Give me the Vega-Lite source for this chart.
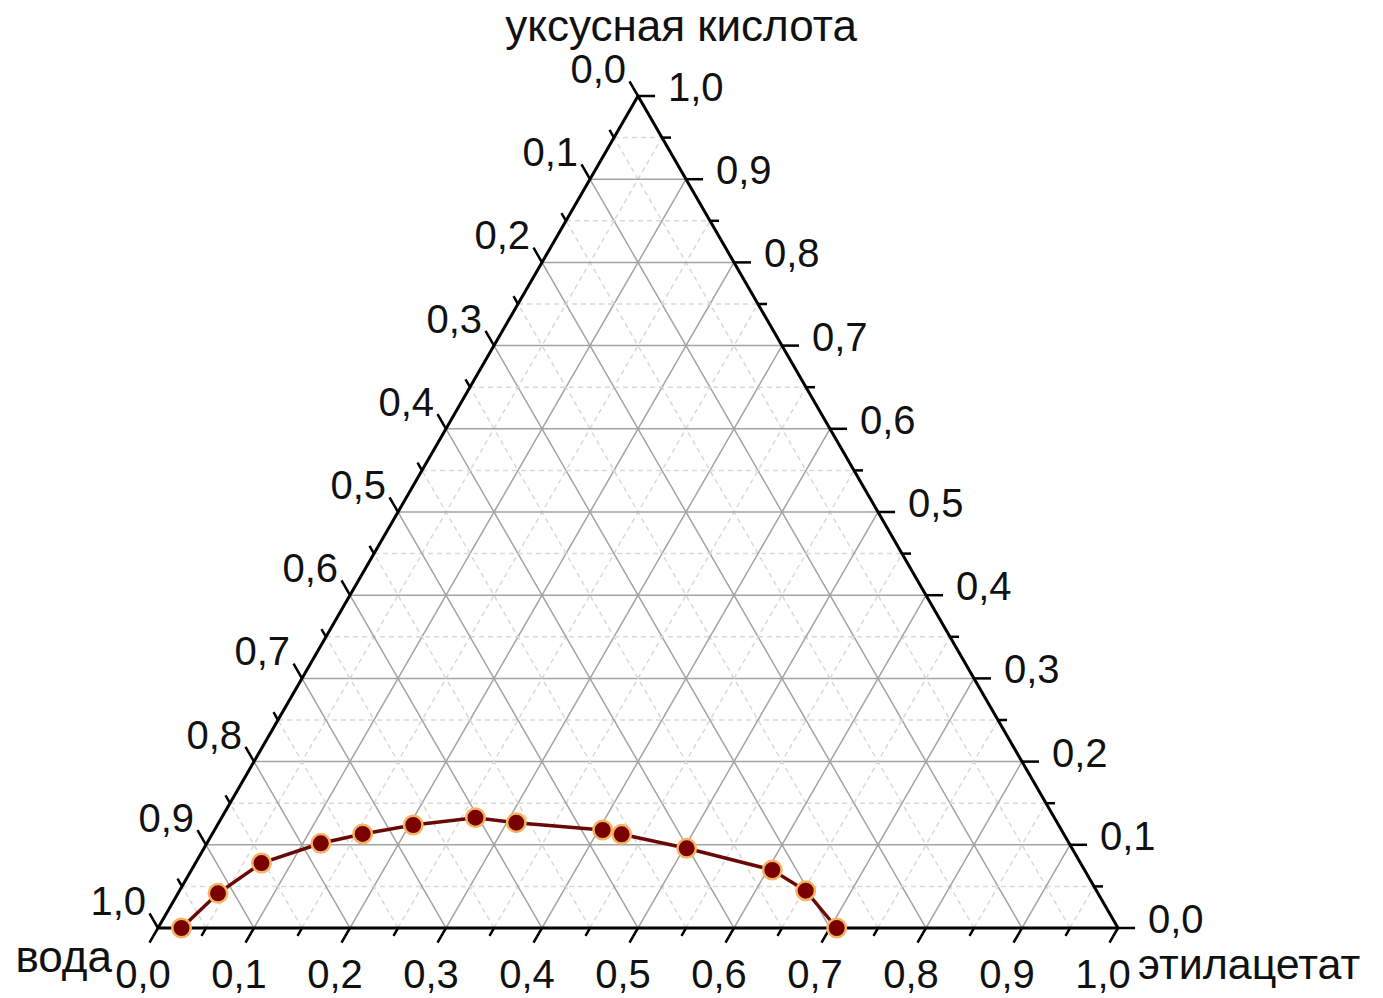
{
  "$schema": "https://vega.github.io/schema/vega-lite/v6.json",
  "width": 960,
  "height": 832,
  "autosize": {"type": "none"},
  "padding": {"left": 158, "top": 96, "right": 265, "bottom": 70},
  "background": "white",
  "view": {"stroke": null},
  "config": {"font": "Liberation Sans"},
  "datasets": {
    "grid": [
      {"kind": "minor", "x": 0.025, "y": 0.05, "x2": 0.975, "y2": 0.05},
      {"kind": "minor", "x": 0.05, "y": 0, "x2": 0.525, "y2": 0.95},
      {"kind": "minor", "x": 0.95, "y": 0, "x2": 0.475, "y2": 0.95},
      {"kind": "major", "x": 0.05, "y": 0.1, "x2": 0.95, "y2": 0.1},
      {"kind": "major", "x": 0.1, "y": 0, "x2": 0.55, "y2": 0.9},
      {"kind": "major", "x": 0.9, "y": 0, "x2": 0.45, "y2": 0.9},
      {"kind": "minor", "x": 0.075, "y": 0.15, "x2": 0.925, "y2": 0.15},
      {"kind": "minor", "x": 0.15, "y": 0, "x2": 0.575, "y2": 0.85},
      {"kind": "minor", "x": 0.85, "y": 0, "x2": 0.425, "y2": 0.85},
      {"kind": "major", "x": 0.1, "y": 0.2, "x2": 0.9, "y2": 0.2},
      {"kind": "major", "x": 0.2, "y": 0, "x2": 0.6, "y2": 0.8},
      {"kind": "major", "x": 0.8, "y": 0, "x2": 0.4, "y2": 0.8},
      {"kind": "minor", "x": 0.125, "y": 0.25, "x2": 0.875, "y2": 0.25},
      {"kind": "minor", "x": 0.25, "y": 0, "x2": 0.625, "y2": 0.75},
      {"kind": "minor", "x": 0.75, "y": 0, "x2": 0.375, "y2": 0.75},
      {"kind": "major", "x": 0.15, "y": 0.3, "x2": 0.85, "y2": 0.3},
      {"kind": "major", "x": 0.3, "y": 0, "x2": 0.65, "y2": 0.7},
      {"kind": "major", "x": 0.7, "y": 0, "x2": 0.35, "y2": 0.7},
      {"kind": "minor", "x": 0.175, "y": 0.35, "x2": 0.825, "y2": 0.35},
      {"kind": "minor", "x": 0.35, "y": 0, "x2": 0.675, "y2": 0.65},
      {"kind": "minor", "x": 0.65, "y": 0, "x2": 0.325, "y2": 0.65},
      {"kind": "major", "x": 0.2, "y": 0.4, "x2": 0.8, "y2": 0.4},
      {"kind": "major", "x": 0.4, "y": 0, "x2": 0.7, "y2": 0.6},
      {"kind": "major", "x": 0.6, "y": 0, "x2": 0.3, "y2": 0.6},
      {"kind": "minor", "x": 0.225, "y": 0.45, "x2": 0.775, "y2": 0.45},
      {"kind": "minor", "x": 0.45, "y": 0, "x2": 0.725, "y2": 0.55},
      {"kind": "minor", "x": 0.55, "y": 0, "x2": 0.275, "y2": 0.55},
      {"kind": "major", "x": 0.25, "y": 0.5, "x2": 0.75, "y2": 0.5},
      {"kind": "major", "x": 0.5, "y": 0, "x2": 0.75, "y2": 0.5},
      {"kind": "major", "x": 0.5, "y": 0, "x2": 0.25, "y2": 0.5},
      {"kind": "minor", "x": 0.275, "y": 0.55, "x2": 0.725, "y2": 0.55},
      {"kind": "minor", "x": 0.55, "y": 0, "x2": 0.775, "y2": 0.45},
      {"kind": "minor", "x": 0.45, "y": 0, "x2": 0.225, "y2": 0.45},
      {"kind": "major", "x": 0.3, "y": 0.6, "x2": 0.7, "y2": 0.6},
      {"kind": "major", "x": 0.6, "y": 0, "x2": 0.8, "y2": 0.4},
      {"kind": "major", "x": 0.4, "y": 0, "x2": 0.2, "y2": 0.4},
      {"kind": "minor", "x": 0.325, "y": 0.65, "x2": 0.675, "y2": 0.65},
      {"kind": "minor", "x": 0.65, "y": 0, "x2": 0.825, "y2": 0.35},
      {"kind": "minor", "x": 0.35, "y": 0, "x2": 0.175, "y2": 0.35},
      {"kind": "major", "x": 0.35, "y": 0.7, "x2": 0.65, "y2": 0.7},
      {"kind": "major", "x": 0.7, "y": 0, "x2": 0.85, "y2": 0.3},
      {"kind": "major", "x": 0.3, "y": 0, "x2": 0.15, "y2": 0.3},
      {"kind": "minor", "x": 0.375, "y": 0.75, "x2": 0.625, "y2": 0.75},
      {"kind": "minor", "x": 0.75, "y": 0, "x2": 0.875, "y2": 0.25},
      {"kind": "minor", "x": 0.25, "y": 0, "x2": 0.125, "y2": 0.25},
      {"kind": "major", "x": 0.4, "y": 0.8, "x2": 0.6, "y2": 0.8},
      {"kind": "major", "x": 0.8, "y": 0, "x2": 0.9, "y2": 0.2},
      {"kind": "major", "x": 0.2, "y": 0, "x2": 0.1, "y2": 0.2},
      {"kind": "minor", "x": 0.425, "y": 0.85, "x2": 0.575, "y2": 0.85},
      {"kind": "minor", "x": 0.85, "y": 0, "x2": 0.925, "y2": 0.15},
      {"kind": "minor", "x": 0.15, "y": 0, "x2": 0.075, "y2": 0.15},
      {"kind": "major", "x": 0.45, "y": 0.9, "x2": 0.55, "y2": 0.9},
      {"kind": "major", "x": 0.9, "y": 0, "x2": 0.95, "y2": 0.1},
      {"kind": "major", "x": 0.1, "y": 0, "x2": 0.05, "y2": 0.1},
      {"kind": "minor", "x": 0.475, "y": 0.95, "x2": 0.525, "y2": 0.95},
      {"kind": "minor", "x": 0.95, "y": 0, "x2": 0.975, "y2": 0.05},
      {"kind": "minor", "x": 0.05, "y": 0, "x2": 0.025, "y2": 0.05}
    ],
    "frame": [
      {"x": 0, "y": 0, "x2": 1, "y2": 0},
      {"x": 0, "y": 0, "x2": 0.5, "y2": 1},
      {"x": 1, "y": 0, "x2": 0.5, "y2": 1}
    ],
    "ticks": [
      {"u": 0, "xl": 0, "xr": 1, "kind": "major", "lab": "0,0", "labw": "1,0"},
      {"u": 0.05, "xl": 0.025, "xr": 0.975, "kind": "minor", "lab": "", "labw": ""},
      {"u": 0.1, "xl": 0.05, "xr": 0.95, "kind": "major", "lab": "0,1", "labw": "0,9"},
      {"u": 0.15, "xl": 0.075, "xr": 0.925, "kind": "minor", "lab": "", "labw": ""},
      {"u": 0.2, "xl": 0.1, "xr": 0.9, "kind": "major", "lab": "0,2", "labw": "0,8"},
      {"u": 0.25, "xl": 0.125, "xr": 0.875, "kind": "minor", "lab": "", "labw": ""},
      {"u": 0.3, "xl": 0.15, "xr": 0.85, "kind": "major", "lab": "0,3", "labw": "0,7"},
      {"u": 0.35, "xl": 0.175, "xr": 0.825, "kind": "minor", "lab": "", "labw": ""},
      {"u": 0.4, "xl": 0.2, "xr": 0.8, "kind": "major", "lab": "0,4", "labw": "0,6"},
      {"u": 0.45, "xl": 0.225, "xr": 0.775, "kind": "minor", "lab": "", "labw": ""},
      {"u": 0.5, "xl": 0.25, "xr": 0.75, "kind": "major", "lab": "0,5", "labw": "0,5"},
      {"u": 0.55, "xl": 0.275, "xr": 0.725, "kind": "minor", "lab": "", "labw": ""},
      {"u": 0.6, "xl": 0.3, "xr": 0.7, "kind": "major", "lab": "0,6", "labw": "0,4"},
      {"u": 0.65, "xl": 0.325, "xr": 0.675, "kind": "minor", "lab": "", "labw": ""},
      {"u": 0.7, "xl": 0.35, "xr": 0.65, "kind": "major", "lab": "0,7", "labw": "0,3"},
      {"u": 0.75, "xl": 0.375, "xr": 0.625, "kind": "minor", "lab": "", "labw": ""},
      {"u": 0.8, "xl": 0.4, "xr": 0.6, "kind": "major", "lab": "0,8", "labw": "0,2"},
      {"u": 0.85, "xl": 0.425, "xr": 0.575, "kind": "minor", "lab": "", "labw": ""},
      {"u": 0.9, "xl": 0.45, "xr": 0.55, "kind": "major", "lab": "0,9", "labw": "0,1"},
      {"u": 0.95, "xl": 0.475, "xr": 0.525, "kind": "minor", "lab": "", "labw": ""},
      {"u": 1, "xl": 0.5, "xr": 0.5, "kind": "major", "lab": "1,0", "labw": "0,0"}
    ],
    "curve": [
      {"x": 0.0245, "y": 0.0},
      {"x": 0.0625, "y": 0.0417},
      {"x": 0.1078, "y": 0.0781},
      {"x": 0.1696, "y": 0.1018},
      {"x": 0.2132, "y": 0.113},
      {"x": 0.2659, "y": 0.1238},
      {"x": 0.3307, "y": 0.1326},
      {"x": 0.3732, "y": 0.1266},
      {"x": 0.4632, "y": 0.1178},
      {"x": 0.483, "y": 0.1126},
      {"x": 0.5507, "y": 0.0958},
      {"x": 0.6399, "y": 0.0697},
      {"x": 0.6747, "y": 0.0448},
      {"x": 0.707, "y": 0.0}
    ]
  },
  "layer": [
    {
      "data": {"name": "grid"},
      "mark": {"type": "rule", "strokeWidth": 1.5},
      "encoding": {
        "x": {"field": "x", "type": "quantitative", "scale": {"domain": [0, 1], "nice": false, "zero": false}, "axis": null},
        "y": {"field": "y", "type": "quantitative", "scale": {"domain": [0, 1], "nice": false, "zero": false}, "axis": null},
        "x2": {"field": "x2"},
        "y2": {"field": "y2"},
        "color": {"field": "kind", "type": "nominal", "scale": {"domain": ["major", "minor"], "range": ["#a3a3a3", "#d9d9d9"]}, "legend": null},
        "strokeDash": {"field": "kind", "type": "nominal", "scale": {"domain": ["major", "minor"], "range": [[1, 0], [5, 4]]}, "legend": null}
      }
    },
    {
      "data": {"name": "frame"},
      "mark": {"type": "rule", "strokeWidth": 3, "color": "black", "strokeCap": "round"},
      "encoding": {
        "x": {"field": "x", "type": "quantitative", "scale": {"domain": [0, 1]}},
        "y": {"field": "y", "type": "quantitative", "scale": {"domain": [0, 1]}},
        "x2": {"field": "x2"},
        "y2": {"field": "y2"}
      }
    },
    {
      "data": {"name": "ticks"},
      "mark": {"type": "point", "shape": "M0,0L-0.5,0.866", "filled": false, "stroke": "black", "strokeWidth": 2.5, "opacity": 1},
      "encoding": {
        "x": {"field": "u", "type": "quantitative", "scale": {"domain": [0, 1]}},
        "y": {"datum": 0, "type": "quantitative", "scale": {"domain": [0, 1]}},
        "size": {"field": "kind", "type": "nominal", "scale": {"domain": ["major", "minor"], "range": [1156, 324]}, "legend": null}
      }
    },
    {
      "data": {"name": "ticks"},
      "mark": {"type": "point", "shape": "M0,0L-0.5,-0.866", "filled": false, "stroke": "black", "strokeWidth": 2.5, "opacity": 1},
      "encoding": {
        "x": {"field": "xl", "type": "quantitative", "scale": {"domain": [0, 1]}},
        "y": {"field": "u", "type": "quantitative", "scale": {"domain": [0, 1]}},
        "size": {"field": "kind", "type": "nominal", "scale": {"domain": ["major", "minor"], "range": [1156, 324]}, "legend": null}
      }
    },
    {
      "data": {"name": "ticks"},
      "mark": {"type": "point", "shape": "M0,0L1,0", "filled": false, "stroke": "black", "strokeWidth": 2.5, "opacity": 1},
      "encoding": {
        "x": {"field": "xr", "type": "quantitative", "scale": {"domain": [0, 1]}},
        "y": {"field": "u", "type": "quantitative", "scale": {"domain": [0, 1]}},
        "size": {"field": "kind", "type": "nominal", "scale": {"domain": ["major", "minor"], "range": [1156, 324]}, "legend": null}
      }
    },
    {
      "data": {"name": "curve"},
      "mark": {"type": "line", "color": "#6a0808", "strokeWidth": 3.5, "interpolate": "linear"},
      "encoding": {
        "x": {"field": "x", "type": "quantitative", "scale": {"domain": [0, 1]}},
        "y": {"field": "y", "type": "quantitative", "scale": {"domain": [0, 1]}}
      }
    },
    {
      "data": {"name": "curve"},
      "mark": {"type": "point", "filled": true, "fill": "#7a0000", "stroke": "#f4b563", "strokeWidth": 2.5, "size": 340, "opacity": 1},
      "encoding": {
        "x": {"field": "x", "type": "quantitative", "scale": {"domain": [0, 1]}},
        "y": {"field": "y", "type": "quantitative", "scale": {"domain": [0, 1]}}
      }
    },
    {
      "data": {"name": "ticks"},
      "transform": [{"filter": "datum.kind == 'major'"}],
      "mark": {"type": "text", "fontSize": 40, "align": "center", "baseline": "alphabetic", "dx": -15, "dy": 60, "color": "#111"},
      "encoding": {
        "x": {"field": "u", "type": "quantitative", "scale": {"domain": [0, 1]}},
        "y": {"datum": 0, "type": "quantitative", "scale": {"domain": [0, 1]}},
        "text": {"field": "lab"}
      }
    },
    {
      "data": {"name": "ticks"},
      "transform": [{"filter": "datum.kind == 'major'"}],
      "mark": {"type": "text", "fontSize": 40, "align": "right", "baseline": "middle", "dx": -12, "dy": -25, "color": "#111"},
      "encoding": {
        "x": {"field": "xl", "type": "quantitative", "scale": {"domain": [0, 1]}},
        "y": {"field": "u", "type": "quantitative", "scale": {"domain": [0, 1]}},
        "text": {"field": "labw"}
      }
    },
    {
      "data": {"name": "ticks"},
      "transform": [{"filter": "datum.kind == 'major'"}],
      "mark": {"type": "text", "fontSize": 40, "align": "left", "baseline": "middle", "dx": 30, "dy": -7, "color": "#111"},
      "encoding": {
        "x": {"field": "xr", "type": "quantitative", "scale": {"domain": [0, 1]}},
        "y": {"field": "u", "type": "quantitative", "scale": {"domain": [0, 1]}},
        "text": {"field": "lab"}
      }
    },
    {
      "data": {"values": [{"name": "уксусная кислота", "x": 0.5, "y": 1}]},
      "mark": {"type": "text", "fontSize": 44, "align": "center", "baseline": "alphabetic", "dx": 43, "dy": -55, "color": "#111"},
      "encoding": {
        "x": {"field": "x", "type": "quantitative", "scale": {"domain": [0, 1]}},
        "y": {"field": "y", "type": "quantitative", "scale": {"domain": [0, 1]}},
        "text": {"field": "name"}
      }
    },
    {
      "data": {"values": [{"name": "вода", "x": 0, "y": 0}]},
      "mark": {"type": "text", "fontSize": 44, "align": "right", "baseline": "alphabetic", "dx": -46, "dy": 44, "color": "#111"},
      "encoding": {
        "x": {"field": "x", "type": "quantitative", "scale": {"domain": [0, 1]}},
        "y": {"field": "y", "type": "quantitative", "scale": {"domain": [0, 1]}},
        "text": {"field": "name"}
      }
    },
    {
      "data": {"values": [{"name": "этилацетат", "x": 1, "y": 0}]},
      "mark": {"type": "text", "fontSize": 43, "align": "left", "baseline": "alphabetic", "dx": 20, "dy": 51, "color": "#111"},
      "encoding": {
        "x": {"field": "x", "type": "quantitative", "scale": {"domain": [0, 1]}},
        "y": {"field": "y", "type": "quantitative", "scale": {"domain": [0, 1]}},
        "text": {"field": "name"}
      }
    }
  ]
}
